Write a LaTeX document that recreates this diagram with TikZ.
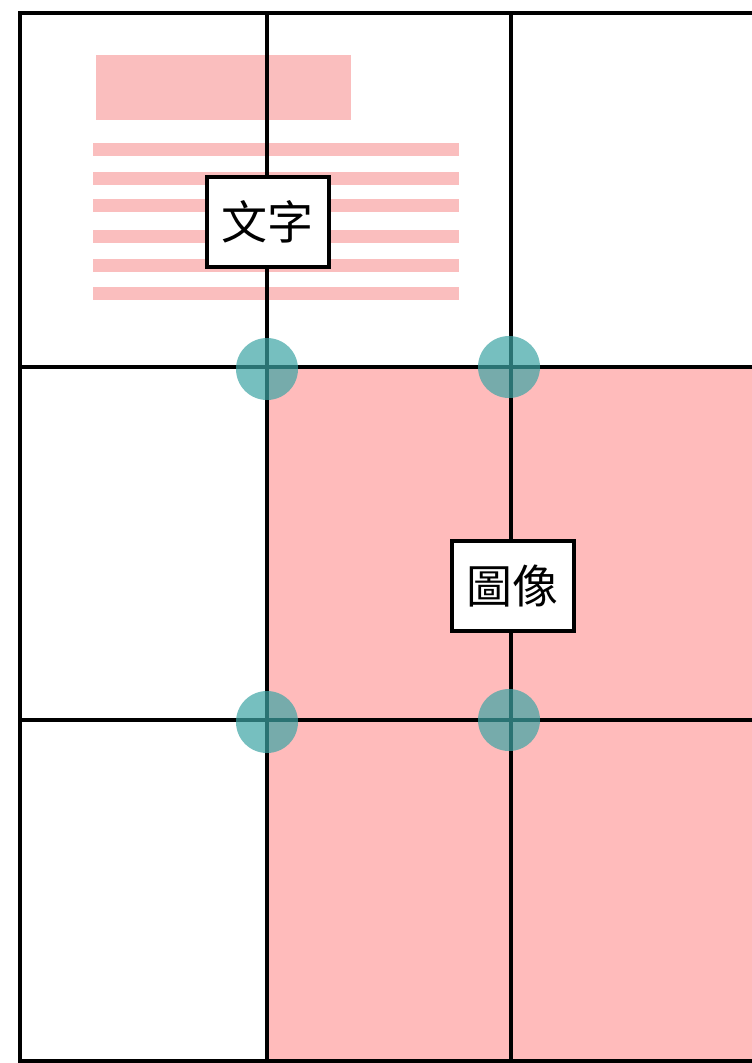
\documentclass[tikz,border=0pt]{standalone}
\usepackage{fontspec}
\newfontfamily\cjk{Noto Sans CJK TC}
\definecolor{pinkfill}{RGB}{255,187,187}
\definecolor{stripe}{RGB}{250,190,190}
\definecolor{tealdot}{RGB}{60,165,165}
\begin{document}
\begin{tikzpicture}[x=1pt,y=-1pt,
  gridline/.style={line width=4pt,black},
  dot/.style={circle,fill=tealdot,fill opacity=0.7,minimum size=62pt,inner sep=0pt},
  label/.style={draw=black,line width=4pt,fill=white,minimum width=122pt,minimum height=90pt,inner sep=0pt,font=\cjk\fontsize{46}{52}\selectfont}]
\useasboundingbox (0,0) rectangle (752,1063);
\fill[white] (0,0) rectangle (752,1063);
% pink image area
\fill[pinkfill] (267,367) rectangle (752,1061);
% text mock-up
\fill[stripe] (96,55) rectangle (351,120);
\foreach \y in {143,172,199,230,259,287}
  \fill[stripe] (93,\y) rectangle (459,\y+13);
% grid
\coordinate (tl) at (20,13);
\coordinate (tr) at (752,13);
\coordinate (bl) at (20,1061);
\coordinate (br) at (752,1061);
\draw[gridline] (tr) -- (tl) -- (bl) -- (br);
\coordinate (v1t) at (267,13);  \coordinate (v1b) at (267,1061);
\coordinate (v2t) at (511,13);  \coordinate (v2b) at (511,1061);
\coordinate (h1l) at (20,367);  \coordinate (h1r) at (752,367);
\coordinate (h2l) at (20,720);  \coordinate (h2r) at (752,720);
\draw[gridline] (v1t) -- (v1b);
\draw[gridline] (v2t) -- (v2b);
\draw[gridline] (h1l) -- (h1r);
\draw[gridline] (h2l) -- (h2r);
% intersection dots
\node[dot] (d1) at (267,369) {};
\node[dot] (d2) at (509,367) {};
\node[dot] (d3) at (267,722) {};
\node[dot] (d4) at (509,720) {};
% labels
\node[label] (text) at (267.5,222) {文字};
\node[label] (img) at (512.5,586) {圖像};
\end{tikzpicture}
\end{document}
